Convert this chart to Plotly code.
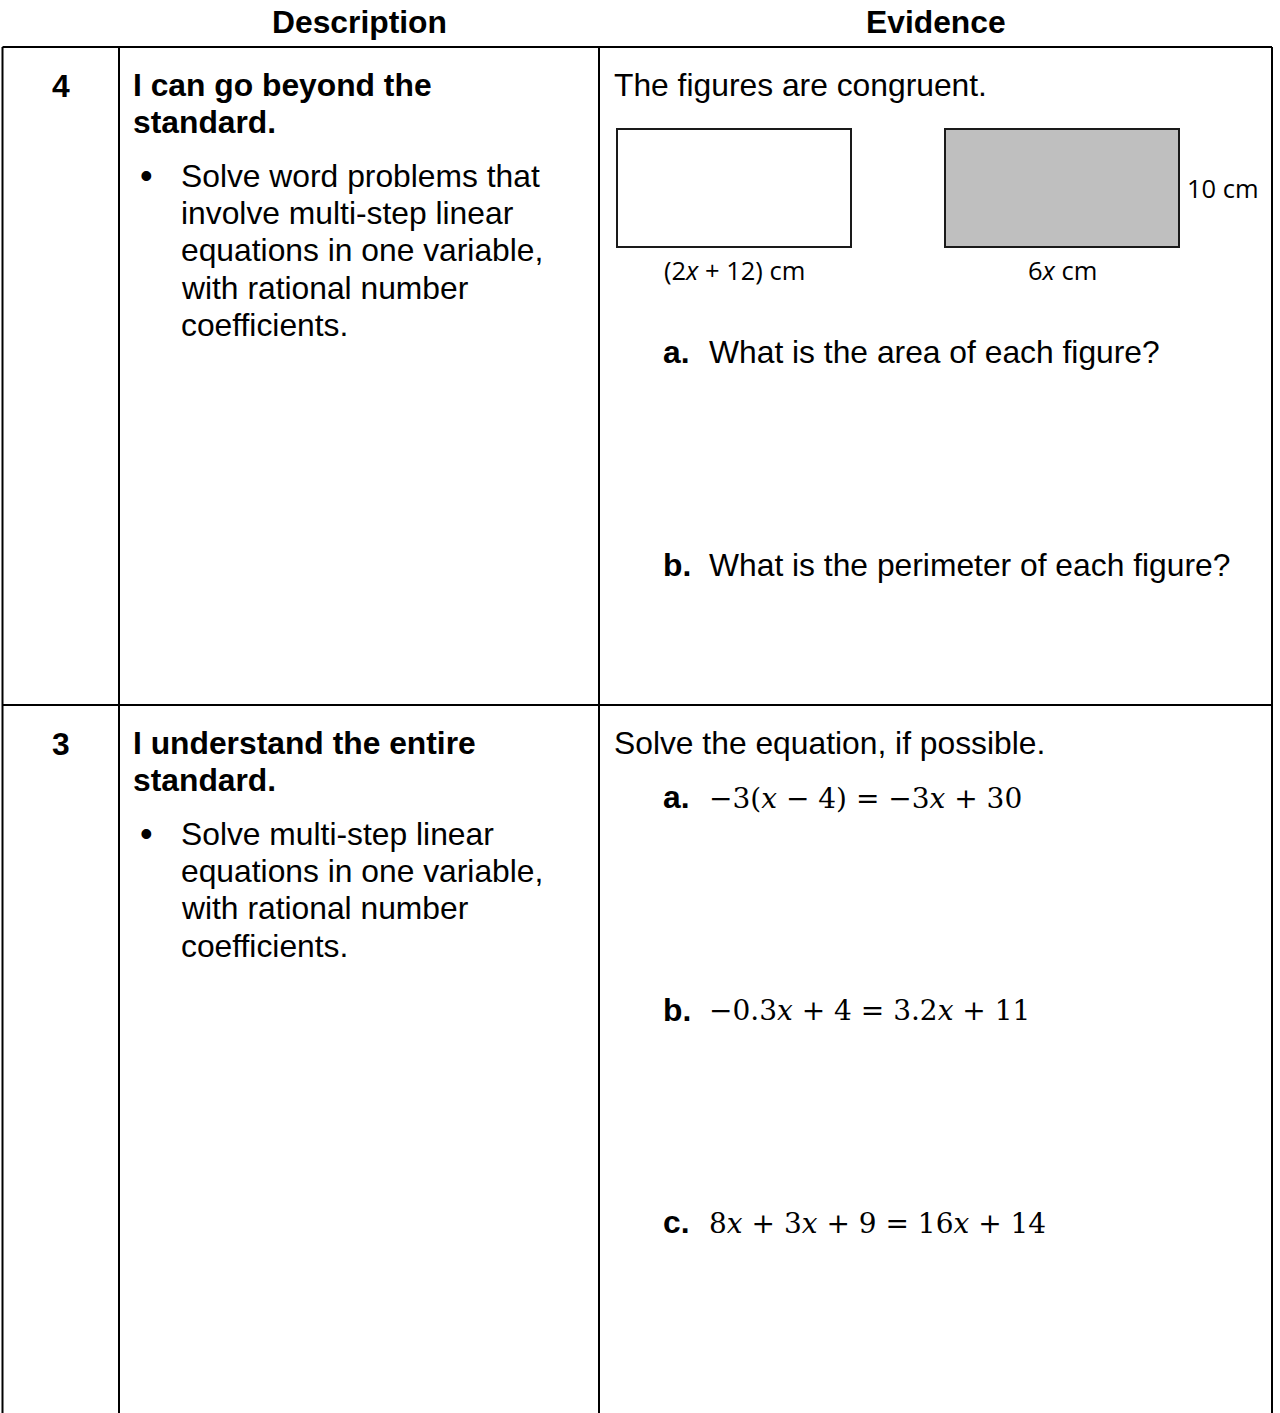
import plotly.graph_objects as go

W, H = 1280, 1413

# text content of the table
headers = ["Description", "Evidence"]
levels = ["4", "3"]
level_titles = [["I can go beyond the", "standard."],
                ["I understand the entire", "standard."]]
level_bullets = [["Solve word problems that", "involve multi-step linear",
                  "equations in one variable,", "with rational number", "coefficients."],
                 ["Solve multi-step linear", "equations in one variable,",
                  "with rational number", "coefficients."]]
evidence_intro = ["The figures are congruent.", "Solve the equation, if possible."]
question_letters = ["a.", "b."]
questions = ["What is the area of each figure?",
             "What is the perimeter of each figure?"]
equation_letters = ["a.", "b.", "c."]
equations = ["−3(<i>x</i> − 4) = −3<i>x</i> + 30",
             "−0.3<i>x</i> + 4 = 3.2<i>x</i> + 11",
             "8<i>x</i> + 3<i>x</i> + 9 = 16<i>x</i> + 14"]
figure_width_labels = ["(2<i>x</i> + 12) cm", "6<i>x</i> cm"]
figure_height_label = "10 cm"

# page geometry (pixels)
col_x = [2.5, 119, 599, 1272]
top_y = 47
row_split = 705
row_text_y = [85, 743]
line_step = 37.4
sans = "Liberation Sans"
fs = 31.8
pad = 3  # annotation box padding, pulled back so text starts where it should

fig = go.Figure()

# table grid
line = dict(color="black", width=2)
for x in col_x:
    fig.add_shape(type="line", x0=x, x1=x, y0=top_y, y1=H, line=line)
for y in [top_y, row_split]:
    fig.add_shape(type="line", x0=col_x[0], x1=col_x[-1], y0=y, y1=y, line=line)

def txt(x, y, s, bold=False, size=fs, family=sans, anchor="left"):
    if bold:
        s = "<b>" + s + "</b>"
    if anchor == "left":
        x = x - pad
    fig.add_annotation(x=x, y=y, text=s, showarrow=False, xanchor=anchor,
                       yanchor="middle", font=dict(family=family, size=size, color="black"))

# header
txt((col_x[1] + col_x[2]) / 2, 22, headers[0], bold=True, anchor="center")
txt((col_x[2] + col_x[3]) / 2, 22, headers[1], bold=True, anchor="center")

# description column
for i, y0 in enumerate(row_text_y):
    txt((col_x[0] + col_x[1]) / 2, y0 + 1, levels[i], bold=True, anchor="center")
    for k, s in enumerate(level_titles[i]):
        txt(134, y0 + k * line_step, s, bold=True)
    yb = y0 + 90.5
    txt(146, yb, "•", size=36, anchor="center")
    for k, s in enumerate(level_bullets[i]):
        txt(182, yb + k * line_step, s)

# evidence column, row 4
txt(615, row_text_y[0], evidence_intro[0])
rects = [(617, 851, "white"), (945, 1179, "#bfbfbf")]
for x0, x1, fill in rects:
    fig.add_shape(type="rect", x0=x0, x1=x1, y0=129, y1=247,
                  line=dict(color="#1a1a1a", width=2), fillcolor=fill)
label_font = "Open Sans"
for (x0, x1, _), lab in zip(rects, figure_width_labels):
    txt((x0 + x1) / 2, 270, lab, size=25.5, family=label_font, anchor="center")
txt(1188, 188, figure_height_label, size=25.5, family=label_font)
for k, (lt, q) in enumerate(zip(question_letters, questions)):
    y = 352 + k * 213
    txt(664, y, lt, bold=True)
    txt(710, y, q)

# evidence column, row 3
txt(615, row_text_y[1], evidence_intro[1])
for k, (lt, eq) in enumerate(zip(equation_letters, equations)):
    y = 797 + k * 212.5
    txt(664, y, lt, bold=True)
    txt(710, y + 1, eq, size=28, family="DejaVu Serif")

fig.update_xaxes(range=[0, W], visible=False, fixedrange=True)
fig.update_yaxes(range=[H, 0], visible=False, fixedrange=True)
fig.update_layout(width=W, height=H, margin=dict(l=0, r=0, t=0, b=0),
                  paper_bgcolor="white", plot_bgcolor="white", showlegend=False)

fig.write_html("out.html", config={"displayModeBar": False},
               post_script="document.body.style.margin='0';")
